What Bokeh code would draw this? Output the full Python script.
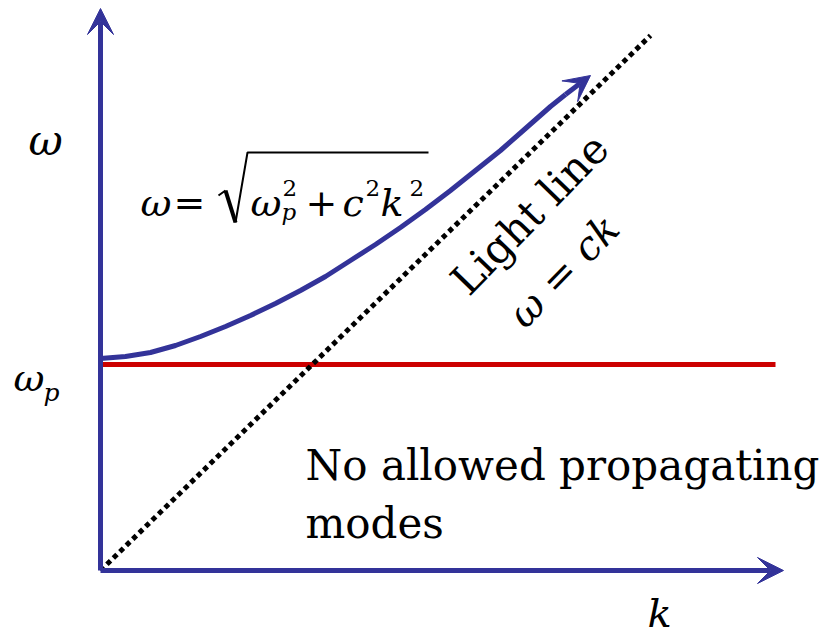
from bokeh.plotting import figure
from bokeh.models import Range1d, Arrow, VeeHead, Label
from bokeh.embed import file_html
from bokeh.resources import INLINE

# ---- data (k, omega) in drawing units, origin at axes corner ----
k_axis_end = [683]
w_axis_end = [562]

# dispersion curve omega = sqrt(wp^2 + c^2 k^2)
curve_k = [0, 25, 50, 75, 100, 125, 150, 175, 200, 225, 250, 275, 300, 325,
           350, 375, 400, 425, 450, 465, 490]
curve_w = [212, 214, 218, 225, 234, 244, 255, 267, 280, 294, 310, 326, 343, 361,
           380, 400, 420, 442, 464, 476, 495]

# light line omega = ck
light_k = [0, 550]
light_w = [0, 535]

# plasma frequency line
wp_k = [0, 675]
wp_w = [206, 206]

BLUE = "#333399"
RED = "#cc0000"
FONT = "DejaVu Serif"

p = figure(width=825, height=632, output_backend="svg", toolbar_location=None,
           x_range=Range1d(-100, 725), y_range=Range1d(-62, 570),
           x_axis_type=None, y_axis_type=None, min_border=0,
           outline_line_color=None)
p.grid.visible = False

# axes arrows
p.add_layout(Arrow(x_start=0, y_start=0, x_end=k_axis_end[0], y_end=0,
                   line_color=BLUE, line_width=5,
                   end=VeeHead(size=26, fill_color=BLUE, line_color=BLUE, line_width=1)))
p.add_layout(Arrow(x_start=0, y_start=0, x_end=0, y_end=w_axis_end[0],
                   line_color=BLUE, line_width=5,
                   end=VeeHead(size=26, fill_color=BLUE, line_color=BLUE, line_width=1)))

# plasma frequency line
p.line(wp_k, wp_w, line_color=RED, line_width=5)

# light line
p.line(light_k, light_w, line_color="black", line_width=5, line_dash="5 4")

# dispersion curve
p.line(curve_k[:-1], curve_w[:-1], line_color=BLUE, line_width=5, line_join="round")
p.add_layout(Arrow(x_start=curve_k[-2], y_start=curve_w[-2], x_end=curve_k[-1], y_end=curve_w[-1],
                   line_color=BLUE, line_width=5,
                   end=VeeHead(size=26, fill_color=BLUE, line_color=BLUE, line_width=1)))


def lab(x, y, text, size, italic=True, angle=0.0):
    p.add_layout(Label(x=x, y=y, text=text, text_font=FONT,
                       text_font_size=f"{size}px",
                       text_font_style="italic" if italic else "normal",
                       text_color="black", text_align="left",
                       text_baseline="alphabetic", angle=angle))


# axis labels
lab(-72, 430, "ω", 42)
lab(-87, 193, "ω", 38)
lab(-57, 178, "p", 25)
lab(547, -42, "k", 40)

# formula  ω = sqrt(ω_p^2 + c^2 k^2)
BL = 368
lab(40, BL, "ω", 38)
lab(73, BL, "=", 38, italic=False)
lab(150, BL, "ω", 38)
lab(182, BL + 15, "2", 23, italic=False)
lab(181, BL - 9, "p", 23)
lab(205, BL, "+", 38, italic=False)
lab(242, BL, "c", 38)
lab(265, BL + 15, "2", 23, italic=False)
lab(280, BL, "k", 38)
lab(309, BL + 15, "2", 23, italic=False)
# radical sign
p.line([118, 125], [375, 380], line_color="black", line_width=2)
p.line([125, 135], [380, 348], line_color="black", line_width=4)
p.line([135, 147, 328], [348, 418, 418], line_color="black", line_width=2)

# light line labels
lab(358, 283, "Light line", 42, italic=False, angle=0.80)
lab(415, 250, "ω = ck", 40, angle=0.80)

# region text
lab(205, 105, "No allowed propagating", 42, italic=False)
lab(205, 47, "modes", 42, italic=False)

open("out.html", "w").write(file_html(p, INLINE))
